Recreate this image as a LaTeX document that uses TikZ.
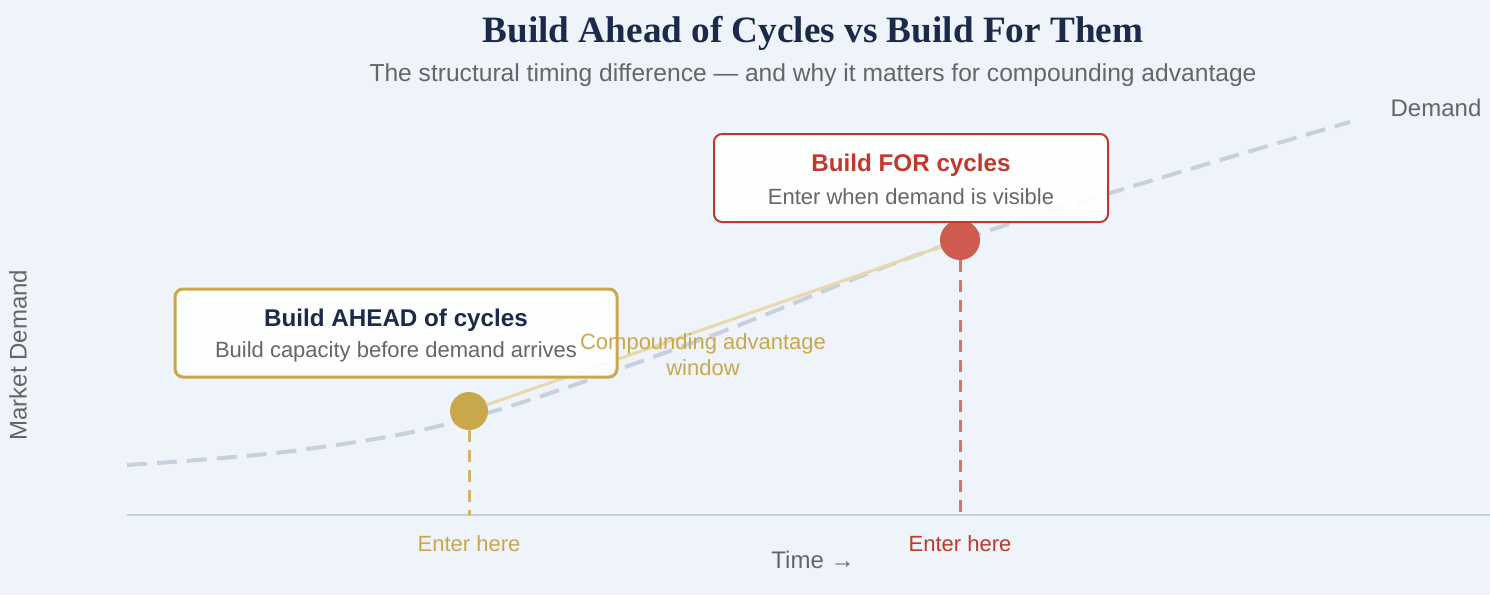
\documentclass[tikz,border=0pt]{standalone}
\usepackage{fontspec}
\setmainfont{Liberation Sans}
\newfontfamily\titlefont{Liberation Serif}
\definecolor{bg}{HTML}{EFF3FA}
\definecolor{navy}{HTML}{1B2A4A}
\definecolor{gold}{HTML}{C9A84C}
\definecolor{redc}{HTML}{C0392B}
\definecolor{redd}{HTML}{CD5C4E}
\definecolor{grayt}{HTML}{666666}
\definecolor{curve}{HTML}{C9D0DD}
\begin{document}
\begin{tikzpicture}[x=0.5pt,y=-0.5pt,
  box/.style={draw,fill=white,fill opacity=0.92,rounded corners=4pt,minimum width=221pt,minimum height=44pt},
  lbl/.style={font=\fontsize{11}{13}\selectfont},
  btitle/.style={font=\fontsize{12.1}{14}\selectfont\bfseries}]
\fill[bg] (0,0) rectangle (1490,595);
\useasboundingbox (0,0) rectangle (1490,595);
\node[font=\titlefont\fontsize{18.6}{21}\selectfont\bfseries,text=navy] (title) at (813,33) {Build Ahead of Cycles vs Build For Them};
\node[font=\fontsize{12.3}{14}\selectfont,text=grayt] (sub) at (813,75) {The structural timing difference — and why it matters for compounding advantage};
\coordinate (ax0) at (127,515); \coordinate (ax1) at (1490,515);
\draw[curve,line width=1.2pt] (ax0) -- (ax1);
\draw[curve,line width=2pt,dash pattern=on 10pt off 5pt] plot[smooth,tension=0.6] coordinates {(127,465) (300,450) (470,418) (700,340) (960,240) (1350,122)};
\node[font=\fontsize{12}{14}\selectfont,text=grayt] (dem) at (1436,108) {Demand};
\node[font=\fontsize{12}{14}\selectfont,text=grayt,rotate=90] (md) at (18,355) {Market Demand};
\node[font=\fontsize{12}{14}\selectfont,text=grayt] (time) at (813,560) {Time →};
\node[circle,fill=gold,minimum size=19pt,inner sep=0] (gd) at (469,411) {};
\node[circle,fill=redd,minimum size=20pt,inner sep=0] (rd) at (960,240) {};
\draw[gold!45,line width=1.5pt] (gd) -- (rd);
\coordinate (gb) at (469,515); \coordinate (rb) at (960,515);
\draw[gold!85,line width=1.5pt,dash pattern=on 6pt off 4pt] (gd) -- (gb);
\draw[redd!85,line width=1.5pt,dash pattern=on 6pt off 4pt] (rd) -- (rb);
\node[lbl,text=gold] (eg) at (469,544) {Enter here};
\node[lbl,text=redc] (er) at (960,544) {Enter here};
\node[box,draw=gold,draw opacity=1,line width=1.5pt] (lb) at (396,333) {};
\node[btitle,text=navy] (lbt) at (396,320) {Build AHEAD of cycles};
\node[lbl,text=grayt] (lbs) at (396,352) {Build capacity before demand arrives};
\node[box,draw=redc,draw opacity=1,line width=1pt,minimum width=197pt] (rbx) at (911,178) {};
\node[btitle,text=redc] (rbt) at (911,165) {Build FOR cycles};
\node[lbl,text=grayt] (rbs) at (911,197) {Enter when demand is visible};
\node[lbl,text=gold,align=center] (win) at (703,355) {Compounding advantage\\window};
\end{tikzpicture}
\end{document}
